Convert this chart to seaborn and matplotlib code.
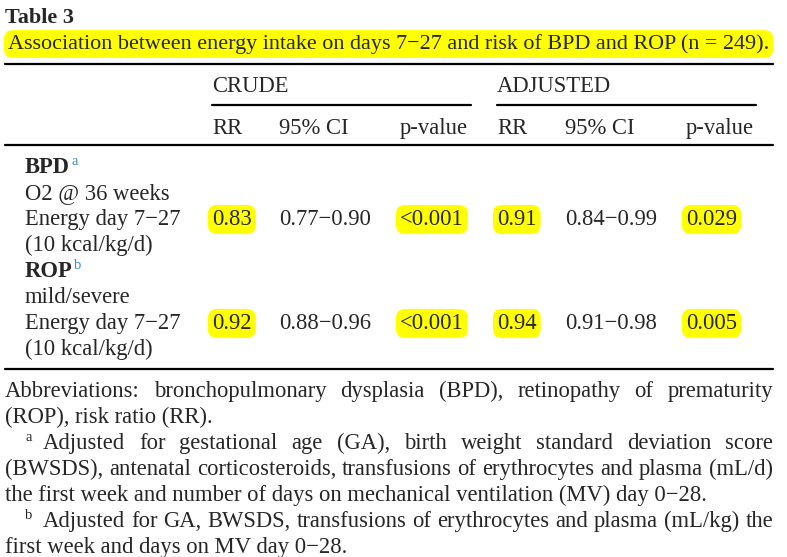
import matplotlib
matplotlib.use("Agg")
import matplotlib.pyplot as plt
import seaborn as sns

# Table content
table_no = "Table 3"
caption = "Association between energy intake on days 7\u221227 and risk of BPD and ROP (n = 249)."
groups = ["CRUDE", "ADJUSTED"]
col_heads = ["RR", "95% CI", "p-value"]
outcomes = ["BPD", "ROP"]
outcome_marks = ["a", "b"]
outcome_defs = ["O2 @ 36 weeks", "mild/severe"]
exposure = ["Energy day 7\u221227", "(10 kcal/kg/d)"]
crude_rr = ["0.83", "0.92"]
crude_ci = ["0.77\u22120.90", "0.88\u22120.96"]
crude_p = ["<0.001", "<0.001"]
adj_rr = ["0.91", "0.94"]
adj_ci = ["0.84\u22120.99", "0.91\u22120.98"]
adj_p = ["0.029", "0.005"]

footnotes = [
    ("", "Abbreviations: bronchopulmonary dysplasia (BPD), retinopathy of prematurity", True),
    ("", "(ROP), risk ratio (RR).", False),
    ("a", "Adjusted for gestational age (GA), birth weight standard deviation score", True),
    ("", "(BWSDS), antenatal corticosteroids, transfusions of erythrocytes and plasma (mL/d)", True),
    ("", "the first week and number of days on mechanical ventilation (MV) day 0\u221228.", False),
    ("b", "Adjusted for GA, BWSDS, transfusions of erythrocytes and plasma (mL/kg) the", True),
    ("", "first week and days on MV day 0\u221228.", False),
]

sns.set_theme(style="white")
plt.rcParams["font.family"] = ["Liberation Serif", "DejaVu Serif"]

FS = 16.3
YELLOW = "#ffff00"
BLUE = "#3a8cc4"
hl = dict(boxstyle="round,pad=0.18,rounding_size=0.4", fc=YELLOW, ec="none")

fig = plt.figure(figsize=(7.87, 5.57), dpi=100)
ax = fig.add_axes([0, 0, 1, 1])
ax.set_xlim(0, 787)
ax.set_ylim(557, 0)
ax.axis("off")
r = fig.canvas.get_renderer()


def width(t):
    return t.get_window_extent(r).width


def sup(x, y, s):
    ax.text(x, y - 8, s, fontsize=10.5, color=BLUE, va="baseline")


def justified(words, x0, x1, y):
    txts = [ax.text(0, y, w, fontsize=FS, va="baseline") for w in words]
    ws = [width(t) for t in txts]
    gap = (x1 - x0 - sum(ws)) / (len(words) - 1)
    x = x0
    for t, w in zip(txts, ws):
        t.set_x(x)
        x += w + gap


# heading
ax.text(5, 23, table_no, fontsize=16, fontweight="bold", va="baseline")
ax.text(8, 49, caption, fontsize=15.95, va="baseline", bbox=hl)

# rules
ax.plot([5, 773], [64, 64], color="black", lw=1.6)
ax.plot([212, 471], [105, 105], color="black", lw=1.6)
ax.plot([497, 756], [105, 105], color="black", lw=1.6)
ax.plot([5, 773], [145, 145], color="black", lw=1.6)
ax.plot([5, 773], [369, 369], color="black", lw=1.6)

# column headers
group_x = [212, 497]
col_x = [[212, 279, 400], [497, 565, 686]]
for g, gx in zip(groups, group_x):
    ax.text(gx, 92, g, fontsize=FS, va="baseline")
for xs in col_x:
    for h, cx in zip(col_heads, xs):
        ax.text(cx, 134, h, fontsize=FS, va="baseline")

# body rows
row_base = [173, 277]
for i, base in enumerate(row_base):
    t = ax.text(25, base, outcomes[i], fontsize=FS, fontweight="bold", va="baseline")
    sup(25 + width(t) + 1, base, outcome_marks[i])
    ax.text(25, base + 26, outcome_defs[i], fontsize=FS, va="baseline")
    ax.text(25, base + 52, exposure[0], fontsize=FS, va="baseline")
    ax.text(25, base + 78, exposure[1], fontsize=FS, va="baseline")
    vals = [crude_rr[i], crude_ci[i], crude_p[i], adj_rr[i], adj_ci[i], adj_p[i]]
    xs = col_x[0] + col_x[1]
    for j, (v, vx) in enumerate(zip(vals, xs)):
        ax.text(vx, base + 52, v, fontsize=FS, va="baseline",
                bbox=None if j % 3 == 1 else hl)

# footnotes
y = 397
for mark, line, just in footnotes:
    x0 = 5
    if mark:
        ax.text(25, y - 8, mark, fontsize=10.5, va="baseline")
        x0 = 43
    if just:
        justified(line.split(" "), x0, 773, y)
    else:
        ax.text(x0, y, line, fontsize=FS, va="baseline")
    y += 26

fig.savefig("out.png", dpi=100, facecolor="white")
